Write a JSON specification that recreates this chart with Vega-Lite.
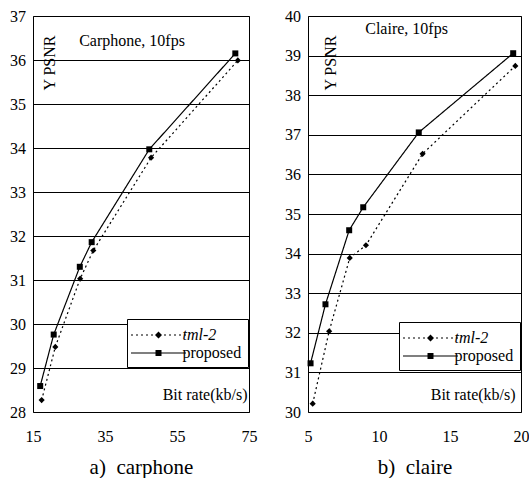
{
  "$schema": "https://vega.github.io/schema/vega-lite/v6.json",
  "background": "white",
  "padding": {"left": 9, "top": 7, "right": 0, "bottom": 0},
  "spacing": 59,
  "bounds": "flush",
  "config": {
    "font": "Liberation Serif",
    "view": {"stroke": "black", "strokeWidth": 1},
    "axis": {
      "domain": false, "ticks": false, "labelFlush": false, "labelOverlap": false, "labelFont": "Liberation Serif", "labelFontSize": 16,
      "labelColor": "black", "titleFont": "Liberation Serif", "titleFontWeight": "normal",
      "titleColor": "black", "titleFontSize": 21
    },
    "axisY": {"grid": true, "gridColor": "black", "gridOpacity": 1, "gridWidth": 1, "labelPadding": 7.5},
    "axisX": {"grid": false, "labelPadding": 16, "titlePadding": 12},
    "legend": {
      "orient": "none", "title": null, "strokeColor": "black", "fillColor": "white", "padding": 6,
      "labelFont": "Liberation Serif", "labelFontSize": 16, "labelColor": "black",
      "symbolSize": 400, "symbolOffset": 15.5, "labelOffset": 14, "rowPadding": -2,
      "symbolStrokeColor": "black", "symbolFillColor": "black", "symbolStrokeWidth": 0
    }
  },
  "datasets": {
    "carphone": [
      {"series": "tml-2", "rate": 17.4, "psnr": 28.27},
      {"series": "tml-2", "rate": 21.2, "psnr": 29.48},
      {"series": "tml-2", "rate": 28.1, "psnr": 31.03},
      {"series": "tml-2", "rate": 31.75, "psnr": 31.67},
      {"series": "tml-2", "rate": 47.8, "psnr": 33.78},
      {"series": "tml-2", "rate": 71.9, "psnr": 35.99},
      {"series": "proposed", "rate": 17.0, "psnr": 28.59},
      {"series": "proposed", "rate": 20.75, "psnr": 29.76},
      {"series": "proposed", "rate": 28.0, "psnr": 31.3},
      {"series": "proposed", "rate": 31.3, "psnr": 31.86},
      {"series": "proposed", "rate": 47.3, "psnr": 33.97},
      {"series": "proposed", "rate": 71.2, "psnr": 36.15}
    ],
    "claire": [
      {"series": "tml-2", "rate": 5.33, "psnr": 30.21},
      {"series": "tml-2", "rate": 6.49, "psnr": 32.04},
      {"series": "tml-2", "rate": 7.94, "psnr": 33.89},
      {"series": "tml-2", "rate": 9.08, "psnr": 34.21},
      {"series": "tml-2", "rate": 13.07, "psnr": 36.52},
      {"series": "tml-2", "rate": 19.6, "psnr": 38.74},
      {"series": "proposed", "rate": 5.18, "psnr": 31.23},
      {"series": "proposed", "rate": 6.23, "psnr": 32.72},
      {"series": "proposed", "rate": 7.9, "psnr": 34.59},
      {"series": "proposed", "rate": 8.89, "psnr": 35.17},
      {"series": "proposed", "rate": 12.8, "psnr": 37.06},
      {"series": "proposed", "rate": 19.45, "psnr": 39.06}
    ]
  },
  "resolve": {"scale": {"x": "independent", "y": "independent", "strokeDash": "independent"}, "legend": {"strokeDash": "independent"}},
  "hconcat": [
    {
      "width": 216, "height": 396,
      "layer": [
        {
          "data": {"name": "carphone"},
          "mark": {"type": "line", "color": "black", "strokeWidth": 1.2},
          "encoding": {
            "x": {"field": "rate", "type": "quantitative", "scale": {"domain": [15, 75], "nice": false, "zero": false}, "axis": {"values": [15, 35, 55, 75], "title": "a)\u00a0 carphone"}},
            "y": {"field": "psnr", "type": "quantitative", "scale": {"domain": [28, 37], "nice": false, "zero": false}, "axis": {"values": [28, 29, 30, 31, 32, 33, 34, 35, 36, 37], "title": null}},
            "strokeDash": {"field": "series", "type": "nominal", "scale": {"domain": ["tml-2", "proposed"], "range": [[2, 3], [1, 0]]},
              "legend": {"legendX": 94, "legendY": 303,
                "encode": {
                  "symbols": {"update": {
                    "shape": {"signal": "datum.value === 'tml-2' ? 'M-2.75,-0.06L-2.55,-0.06L-2.55,0.06L-2.75,0.06Z M-2.25,-0.06L-2.05,-0.06L-2.05,0.06L-2.25,0.06Z M-1.75,-0.06L-1.55,-0.06L-1.55,0.06L-1.75,0.06Z M-1.25,-0.06L-1.05,-0.06L-1.05,0.06L-1.25,0.06Z M-0.75,-0.06L-0.55,-0.06L-0.55,0.06L-0.75,0.06Z M0.55,-0.06L0.75,-0.06L0.75,0.06L0.55,0.06Z M1.05,-0.06L1.25,-0.06L1.25,0.06L1.05,0.06Z M1.55,-0.06L1.75,-0.06L1.75,0.06L1.55,0.06Z M2.05,-0.06L2.25,-0.06L2.25,0.06L2.05,0.06Z M2.55,-0.06L2.75,-0.06L2.75,0.06L2.55,0.06Z M0,-0.35L0.35,0L0,0.35L-0.35,0Z' : 'M-2.75,-0.05L2.75,-0.05L2.75,0.05L-2.75,0.05Z M-0.3,-0.3L0.3,-0.3L0.3,0.3L-0.3,0.3Z'"},
                    "fill": {"value": "black"}, "fillOpacity": {"value": 1}, "opacity": {"value": 1}, "strokeWidth": {"value": 0}}},
                  "labels": {"update": {"fontStyle": {"signal": "datum.value === 'tml-2' ? 'italic' : 'normal'"}}}
                }}}
          }
        },
        {
          "data": {"name": "carphone"},
          "transform": [{"filter": "datum.series === 'tml-2'"}],
          "mark": {"type": "point", "filled": true, "color": "black", "opacity": 1, "shape": "diamond", "size": 38},
          "encoding": {
            "x": {"field": "rate", "type": "quantitative", "axis": {"values": [15, 35, 55, 75], "title": "a)\u00a0 carphone"}},
            "y": {"field": "psnr", "type": "quantitative", "axis": {"values": [28, 29, 30, 31, 32, 33, 34, 35, 36, 37], "title": null}}
          }
        },
        {
          "data": {"name": "carphone"},
          "transform": [{"filter": "datum.series === 'proposed'"}],
          "mark": {"type": "point", "filled": true, "color": "black", "opacity": 1, "shape": "square", "size": 36},
          "encoding": {
            "x": {"field": "rate", "type": "quantitative", "axis": {"values": [15, 35, 55, 75], "title": "a)\u00a0 carphone"}},
            "y": {"field": "psnr", "type": "quantitative", "axis": {"values": [28, 29, 30, 31, 32, 33, 34, 35, 36, 37], "title": null}}
          }
        },
        {
          "data": {"values": [{"label": "Carphone, 10fps"}]},
          "mark": {"type": "text", "fontSize": 16, "color": "black"},
          "encoding": {"x": {"datum": 42.5}, "y": {"datum": 36.43}, "text": {"field": "label"}}
        },
        {
          "data": {"values": [{"label": "Y PSNR"}]},
          "mark": {"type": "text", "fontSize": 16, "color": "black", "angle": 270},
          "encoding": {"x": {"datum": 19.8}, "y": {"datum": 35.93}, "text": {"field": "label"}}
        },
        {
          "data": {"values": [{"label": "Bit rate(kb/s)"}]},
          "mark": {"type": "text", "fontSize": 16, "color": "black"},
          "encoding": {"x": {"datum": 62.8}, "y": {"datum": 28.38}, "text": {"field": "label"}}
        }
      ]
    },
    {
      "width": 213, "height": 396,
      "layer": [
        {
          "data": {"name": "claire"},
          "mark": {"type": "line", "color": "black", "strokeWidth": 1.2},
          "encoding": {
            "x": {"field": "rate", "type": "quantitative", "scale": {"domain": [5, 20], "nice": false, "zero": false}, "axis": {"values": [5, 10, 15, 20], "title": "b)\u00a0 claire"}},
            "y": {"field": "psnr", "type": "quantitative", "scale": {"domain": [30, 40], "nice": false, "zero": false}, "axis": {"values": [30, 31, 32, 33, 34, 35, 36, 37, 38, 39, 40], "tickCount": 11, "title": null}},
            "strokeDash": {"field": "series", "type": "nominal", "scale": {"domain": ["tml-2", "proposed"], "range": [[2, 3], [1, 0]]},
              "legend": {"legendX": 91, "legendY": 306,
                "encode": {
                  "symbols": {"update": {
                    "shape": {"signal": "datum.value === 'tml-2' ? 'M-2.75,-0.06L-2.55,-0.06L-2.55,0.06L-2.75,0.06Z M-2.25,-0.06L-2.05,-0.06L-2.05,0.06L-2.25,0.06Z M-1.75,-0.06L-1.55,-0.06L-1.55,0.06L-1.75,0.06Z M-1.25,-0.06L-1.05,-0.06L-1.05,0.06L-1.25,0.06Z M-0.75,-0.06L-0.55,-0.06L-0.55,0.06L-0.75,0.06Z M0.55,-0.06L0.75,-0.06L0.75,0.06L0.55,0.06Z M1.05,-0.06L1.25,-0.06L1.25,0.06L1.05,0.06Z M1.55,-0.06L1.75,-0.06L1.75,0.06L1.55,0.06Z M2.05,-0.06L2.25,-0.06L2.25,0.06L2.05,0.06Z M2.55,-0.06L2.75,-0.06L2.75,0.06L2.55,0.06Z M0,-0.35L0.35,0L0,0.35L-0.35,0Z' : 'M-2.75,-0.05L2.75,-0.05L2.75,0.05L-2.75,0.05Z M-0.3,-0.3L0.3,-0.3L0.3,0.3L-0.3,0.3Z'"},
                    "fill": {"value": "black"}, "fillOpacity": {"value": 1}, "opacity": {"value": 1}, "strokeWidth": {"value": 0}}},
                  "labels": {"update": {"fontStyle": {"signal": "datum.value === 'tml-2' ? 'italic' : 'normal'"}}}
                }}}
          }
        },
        {
          "data": {"name": "claire"},
          "transform": [{"filter": "datum.series === 'tml-2'"}],
          "mark": {"type": "point", "filled": true, "color": "black", "opacity": 1, "shape": "diamond", "size": 38},
          "encoding": {
            "x": {"field": "rate", "type": "quantitative", "axis": {"values": [5, 10, 15, 20], "title": "b)\u00a0 claire"}},
            "y": {"field": "psnr", "type": "quantitative", "axis": {"values": [30, 31, 32, 33, 34, 35, 36, 37, 38, 39, 40], "tickCount": 11, "title": null}}
          }
        },
        {
          "data": {"name": "claire"},
          "transform": [{"filter": "datum.series === 'proposed'"}],
          "mark": {"type": "point", "filled": true, "color": "black", "opacity": 1, "shape": "square", "size": 36},
          "encoding": {
            "x": {"field": "rate", "type": "quantitative", "axis": {"values": [5, 10, 15, 20], "title": "b)\u00a0 claire"}},
            "y": {"field": "psnr", "type": "quantitative", "axis": {"values": [30, 31, 32, 33, 34, 35, 36, 37, 38, 39, 40], "tickCount": 11, "title": null}}
          }
        },
        {
          "data": {"values": [{"label": "Claire, 10fps"}]},
          "mark": {"type": "text", "fontSize": 16, "color": "black"},
          "encoding": {"x": {"datum": 11.94}, "y": {"datum": 39.67}, "text": {"field": "label"}}
        },
        {
          "data": {"values": [{"label": "Y PSNR"}]},
          "mark": {"type": "text", "fontSize": 16, "color": "black", "angle": 270},
          "encoding": {"x": {"datum": 6.6}, "y": {"datum": 38.81}, "text": {"field": "label"}}
        },
        {
          "data": {"values": [{"label": "Bit rate(kb/s)"}]},
          "mark": {"type": "text", "fontSize": 16, "color": "black"},
          "encoding": {"x": {"datum": 16.63}, "y": {"datum": 30.42}, "text": {"field": "label"}}
        }
      ]
    }
  ]
}
